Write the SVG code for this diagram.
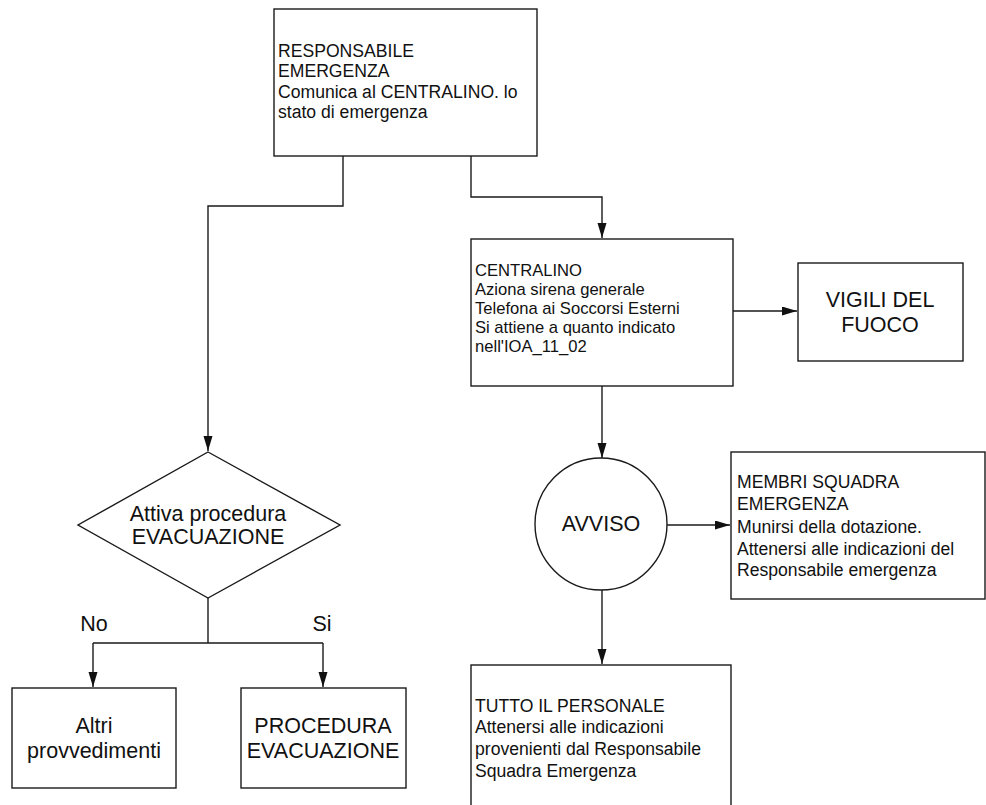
<svg xmlns="http://www.w3.org/2000/svg" width="986" height="805" viewBox="0 0 986 805">
<style>
.box{fill:#fff;stroke:#1a1a1a;stroke-width:1.4}
.ln{fill:none;stroke:#1a1a1a;stroke-width:1.4}
.t{font-family:"Liberation Sans",Arial,sans-serif;font-size:17.6px;fill:#111}
.s{font-size:16.6px}
.c{font-family:"Liberation Sans",Arial,sans-serif;font-size:21.5px;fill:#111;text-anchor:middle}
</style>
<defs>
<marker id="ah" markerUnits="userSpaceOnUse" markerWidth="16" markerHeight="10" refX="15" refY="4.5" orient="auto">
<path d="M0,0 L15,4.5 L0,9 Z" fill="#111"/>
</marker>
</defs>
<rect width="986" height="805" fill="#fff"/>
<g id="connectors">
<path class="ln" d="M343,156 V206 H208 V451" marker-end="url(#ah)"/>
<path class="ln" d="M471,156 V197 H602 V238" marker-end="url(#ah)"/>
<path class="ln" d="M733,311 H797" marker-end="url(#ah)"/>
<path class="ln" d="M602,386 V458" marker-end="url(#ah)"/>
<path class="ln" d="M667,525 H730" marker-end="url(#ah)"/>
<path class="ln" d="M602,589 V664" marker-end="url(#ah)"/>
<path class="ln" d="M208,598 V643 M93,643 H323"/>
<path class="ln" d="M93,643 V687" marker-end="url(#ah)"/>
<path class="ln" d="M323,643 V687" marker-end="url(#ah)"/>
<text class="c" x="94" y="631">No</text>
<text class="c" x="322" y="631">Si</text>
</g>
<g id="responsabile">
<rect class="box" x="274" y="9" width="263" height="147"/>
<text class="t" x="278" y="57">RESPONSABILE</text>
<text class="t" x="278" y="77">EMERGENZA</text>
<text class="t" x="278" y="98">Comunica al CENTRALINO. lo</text>
<text class="t" x="278" y="118">stato di emergenza</text>
</g>
<g id="centralino">
<rect class="box" x="471" y="239" width="262" height="147"/>
<text class="t s" x="475" y="276">CENTRALINO</text>
<text class="t s" x="475" y="295">Aziona sirena generale</text>
<text class="t s" x="475" y="314">Telefona ai Soccorsi Esterni</text>
<text class="t s" x="475" y="333">Si attiene a quanto indicato</text>
<text class="t s" x="475" y="352">nell'IOA_11_02</text>
</g>
<g id="vigili">
<rect class="box" x="798" y="263" width="165" height="98"/>
<text class="c" x="880" y="307">VIGILI DEL</text>
<text class="c" x="880" y="332">FUOCO</text>
</g>
<g id="avviso">
<circle class="box" cx="601" cy="524" r="66"/>
<text class="c" x="601" y="531">AVVISO</text>
</g>
<g id="membri">
<rect class="box" x="731" y="452" width="254" height="147"/>
<text class="t" x="737" y="488">MEMBRI SQUADRA</text>
<text class="t" x="737" y="510">EMERGENZA</text>
<text class="t" x="737" y="533">Munirsi della dotazione.</text>
<text class="t" x="737" y="555">Attenersi alle indicazioni del</text>
<text class="t" x="737" y="576">Responsabile emergenza</text>
</g>
<g id="tutto">
<rect class="box" x="471" y="665" width="260" height="150"/>
<text class="t" x="475" y="712">TUTTO IL PERSONALE</text>
<text class="t" x="475" y="733">Attenersi alle indicazioni</text>
<text class="t" x="475" y="755">provenienti dal Responsabile</text>
<text class="t" x="475" y="777">Squadra Emergenza</text>
</g>
<g id="decisione">
<polygon class="box" points="208,452 340,525 208,598 78,525"/>
<text class="c" x="208" y="521">Attiva procedura</text>
<text class="c" x="208" y="544">EVACUAZIONE</text>
</g>
<g id="altri">
<rect class="box" x="12" y="688" width="164" height="100"/>
<text class="c" x="94" y="733">Altri</text>
<text class="c" x="94" y="758">provvedimenti</text>
</g>
<g id="procedura">
<rect class="box" x="241" y="688" width="165" height="100"/>
<text class="c" x="323" y="733">PROCEDURA</text>
<text class="c" x="323" y="758">EVACUAZIONE</text>
</g>
</svg>
